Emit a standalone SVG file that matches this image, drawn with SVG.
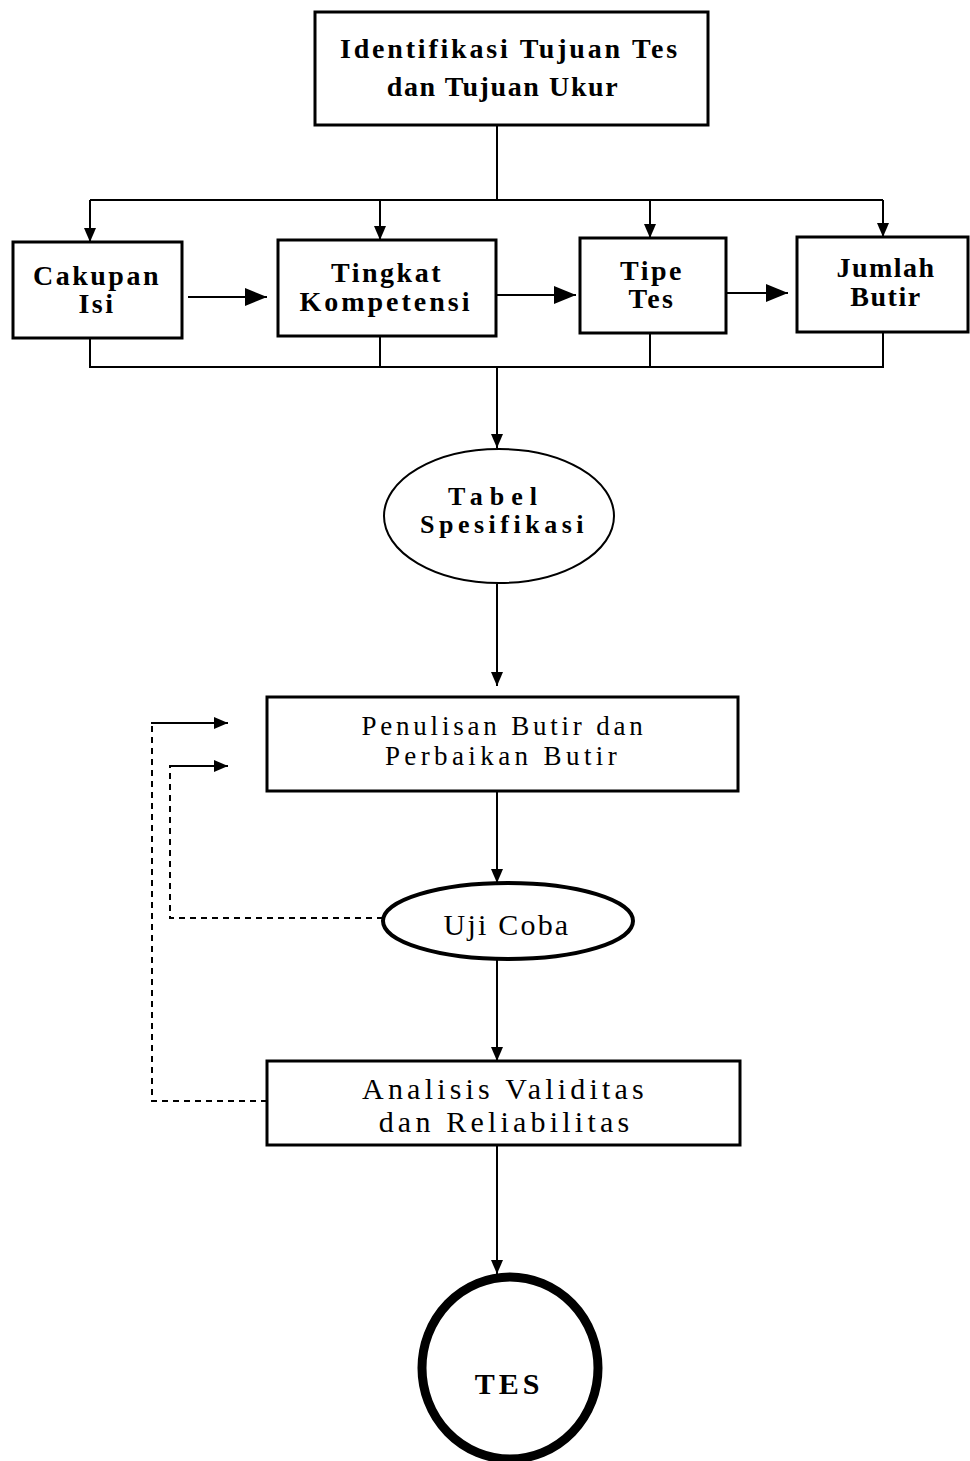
<svg xmlns="http://www.w3.org/2000/svg" width="970" height="1461" viewBox="0 0 970 1461">
<defs>
<marker id="ah" markerUnits="userSpaceOnUse" markerWidth="14" markerHeight="14" viewBox="0 0 14 14" refX="14" refY="7" orient="auto">
<path d="M0,1 L14,7 L0,13 Z" fill="#000"/>
</marker>
<marker id="ahb" markerUnits="userSpaceOnUse" markerWidth="22" markerHeight="20" viewBox="0 0 22 20" refX="22" refY="10" orient="auto">
<path d="M0,1 L22,10 L0,19 Z" fill="#000"/>
</marker>
</defs>
<style>
.box{fill:#fff;stroke:#000;stroke-width:3}
.t{font-family:"Liberation Serif",serif;font-size:28px;text-anchor:middle;fill:#000;letter-spacing:2.5px}
.b{font-weight:bold}
.m{font-size:30px;letter-spacing:3px}
.ln{fill:none;stroke:#000;stroke-width:2}
.ds{fill:none;stroke:#000;stroke-width:2;stroke-dasharray:6,5}
</style>
<rect width="970" height="1461" fill="#fff"/>
<g id="connectors">
<path class="ln" d="M497,125 V200"/>
<path class="ln" d="M90,200 H883"/>
<path class="ln" d="M90,200 V242" marker-end="url(#ah)"/>
<path class="ln" d="M380,200 V240" marker-end="url(#ah)"/>
<path class="ln" d="M650,200 V238" marker-end="url(#ah)"/>
<path class="ln" d="M883,200 V237" marker-end="url(#ah)"/>
<path class="ln" d="M188,297 H267" marker-end="url(#ahb)"/>
<path class="ln" d="M497,295 H576" marker-end="url(#ahb)"/>
<path class="ln" d="M727,293 H788" marker-end="url(#ahb)"/>
<path class="ln" d="M90,338 V367 H883 V332"/>
<path class="ln" d="M380,336 V367"/>
<path class="ln" d="M650,333 V367"/>
<path class="ln" d="M497,367 V448" marker-end="url(#ah)"/>
<path class="ln" d="M497,584 V686" marker-end="url(#ah)"/>
<path class="ln" d="M497,791 V883" marker-end="url(#ah)"/>
<path class="ln" d="M497,960 V1061" marker-end="url(#ah)"/>
<path class="ln" d="M497,1145 V1274" marker-end="url(#ah)"/>
<path class="ds" d="M383,918 H170 V766"/>
<path class="ln" d="M169,766 H228" marker-end="url(#ah)"/>
<path class="ds" d="M267,1101 H152 V723"/>
<path class="ln" d="M151,723 H228" marker-end="url(#ah)"/>
</g>
<g id="n-identifikasi">
<rect class="box" x="315" y="12" width="393" height="113"/>
<text class="t b" x="510" y="58" style="letter-spacing:2.8px">Identifikasi Tujuan Tes</text>
<text class="t b" x="503" y="96" style="letter-spacing:1.6px">dan Tujuan Ukur</text>
</g>
<g id="n-cakupan">
<rect class="box" x="13" y="242" width="169" height="96"/>
<text class="t b" x="97" y="285">Cakupan</text>
<text class="t b" x="97" y="313">Isi</text>
</g>
<g id="n-tingkat">
<rect class="box" x="278" y="240" width="218" height="96"/>
<text class="t b" x="387" y="282">Tingkat</text>
<text class="t b" x="386" y="311" style="letter-spacing:3px">Kompetensi</text>
</g>
<g id="n-tipe">
<rect class="box" x="580" y="238" width="146" height="95"/>
<text class="t b" x="652" y="280">Tipe</text>
<text class="t b" x="652" y="308">Tes</text>
</g>
<g id="n-jumlah">
<rect class="box" x="797" y="237" width="171" height="95"/>
<text class="t b" x="886" y="277" style="letter-spacing:1.5px">Jumlah</text>
<text class="t b" x="886" y="306" style="letter-spacing:1.5px">Butir</text>
</g>
<g id="n-tabel">
<ellipse cx="499" cy="516" rx="115" ry="67" fill="#fff" stroke="#000" stroke-width="2"/>
<text class="t b" x="496" y="505" style="font-size:26px;letter-spacing:7px">Tabel</text>
<text class="t b" x="504" y="533" style="font-size:26px;letter-spacing:4.5px">Spesifikasi</text>
</g>
<g id="n-penulisan">
<rect class="box" x="267" y="697" width="471" height="94"/>
<text class="t" x="504" y="735" style="font-size:27px;letter-spacing:3.8px">Penulisan Butir dan</text>
<text class="t" x="503" y="765" style="font-size:27px;letter-spacing:4.4px">Perbaikan Butir</text>
</g>
<g id="n-ujicoba">
<ellipse cx="508" cy="921" rx="125" ry="38" fill="#fff" stroke="#000" stroke-width="4"/>
<text class="t m" x="507" y="935" style="letter-spacing:2.2px">Uji Coba</text>
</g>
<g id="n-analisis">
<rect class="box" x="267" y="1061" width="473" height="84"/>
<text class="t m" x="505" y="1099" style="letter-spacing:4.2px">Analisis Validitas</text>
<text class="t m" x="506" y="1132" style="letter-spacing:4.2px">dan Reliabilitas</text>
</g>
<g id="n-tes">
<ellipse cx="510" cy="1368" rx="88" ry="91" fill="#fff" stroke="#000" stroke-width="9"/>
<text class="t b" x="509" y="1394" style="font-size:30px;letter-spacing:4px">TES</text>
</g>
</svg>
